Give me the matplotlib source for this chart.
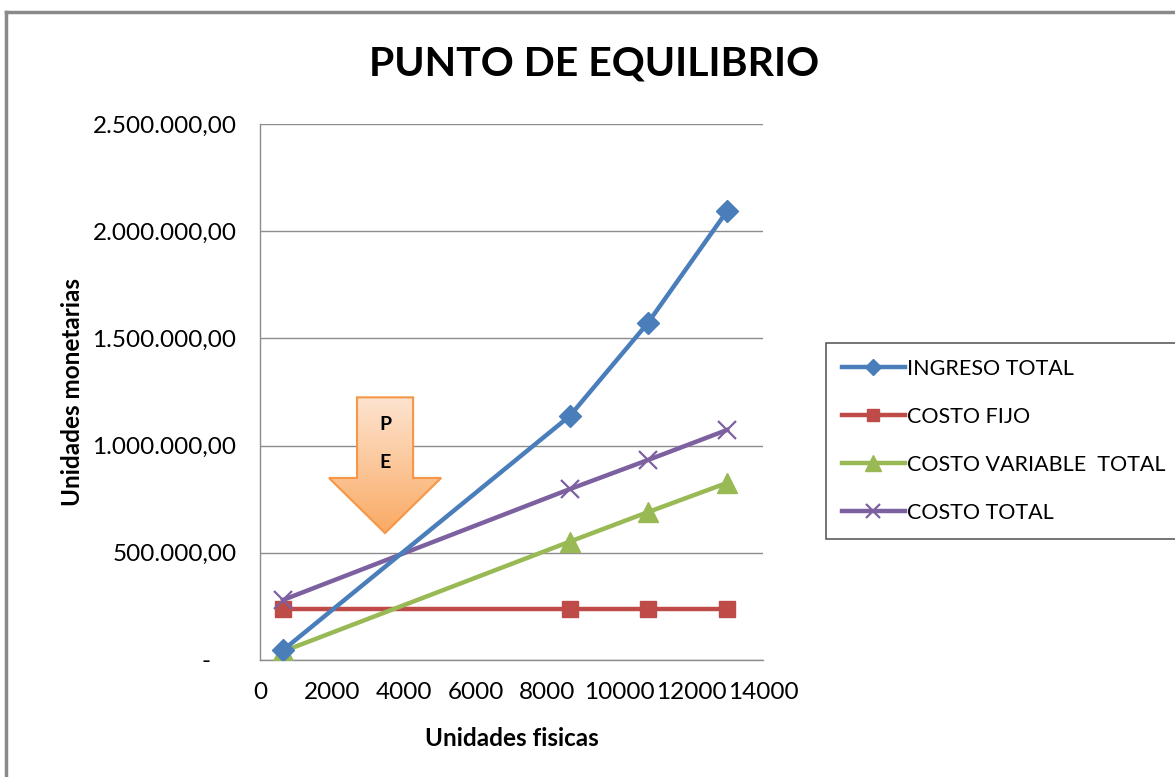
import matplotlib
matplotlib.use("Agg")
from matplotlib import pyplot as plt
from matplotlib.patches import Polygon
from matplotlib.lines import Line2D
from matplotlib.ticker import FuncFormatter
import numpy as np

plt.rcParams['font.family'] = ['Lato', 'DejaVu Sans']

# Units produced and the money series for each level
unidades = [640, 8620, 10800, 13000]
ingreso_total = [46000, 1138000, 1573000, 2094000]
costo_fijo = [236000, 236000, 236000, 236000]
costo_variable_total = [40000, 552000, 690000, 826000]
costo_total = [280000, 797000, 933000, 1073000]

series_names = ['INGRESO TOTAL', 'COSTO FIJO', 'COSTO VARIABLE  TOTAL', 'COSTO TOTAL']

# Break-even marker (block arrow labelled "P E")
pe_x = 3480
pe_top = 1225000
pe_tip = 592000


def money(v, pos):
    if v == 0:
        return '-    '
    s = '{:,.2f}'.format(v)
    return s.replace(',', 'X').replace('.', ',').replace('X', '.')


fig = plt.figure(figsize=(11.75, 7.77), dpi=100)
ax = fig.add_axes([0.2213, 0.1506, 0.4281, 0.6898])

# Outer frame of the chart area
fig.add_artist(Line2D([0.0055, 1.0], [0.9845, 0.9845], transform=fig.transFigure, color='#8a8a8a', lw=2.5))
fig.add_artist(Line2D([0.0055, 0.0055], [0.0, 0.9845], transform=fig.transFigure, color='#8a8a8a', lw=2.5))

lw = 3.2
ax.plot(unidades, ingreso_total, color='#4a7ebb', lw=lw, marker='D', ms=11, label=series_names[0], zorder=5)
ax.plot(unidades, costo_fijo, color='#be4b48', lw=lw, marker='s', ms=12, label=series_names[1], zorder=4)
ax.plot(unidades, costo_variable_total, color='#98b954', lw=lw, marker='^', ms=15, label=series_names[2], zorder=4)
ax.plot(unidades, costo_total, color='#7d60a0', lw=lw, marker='x', ms=13, mew=1.6, label=series_names[3], zorder=4)

ax.set_xlim(0, 14000)
ax.set_ylim(0, 2500000)
ax.set_xticks(np.arange(0, 14001, 2000))
ax.set_yticks(np.arange(0, 2500001, 500000))
ax.yaxis.set_major_formatter(FuncFormatter(money))
ax.tick_params(length=0, labelsize=17.5)
ax.tick_params(axis='y', pad=17)
ax.tick_params(axis='x', pad=16)
ax.grid(axis='y', color='#8c8c8c', lw=1)
ax.set_axisbelow(True)
for side in ['top', 'right']:
    ax.spines[side].set_visible(False)
for side in ['left', 'bottom']:
    ax.spines[side].set_color('#8c8c8c')
    ax.spines[side].set_linewidth(1)

ax.set_xlabel('Unidades fisicas', fontsize=17.5, fontweight='bold', labelpad=17)
ax.set_ylabel('Unidades monetarias', fontsize=17.5, fontweight='bold', labelpad=6)
fig.text(0.506, 0.918, 'PUNTO DE EQUILIBRIO', ha='center', va='center', fontsize=29.5, fontweight='bold')

# Block arrow with a peach-to-orange gradient
shaft_w = 780
head_w = 1560
head_base = 849000
arrow_pts = [
    (pe_x - shaft_w, pe_top), (pe_x + shaft_w, pe_top), (pe_x + shaft_w, head_base),
    (pe_x + head_w, head_base), (pe_x, pe_tip), (pe_x - head_w, head_base),
    (pe_x - shaft_w, head_base),
]
arrow = Polygon(arrow_pts, closed=True, facecolor='none', edgecolor='#f79646', lw=1.5, zorder=3)
ax.add_patch(arrow)
grad = np.linspace(0, 1, 256).reshape(-1, 1)
top_c = np.array([253, 228, 208]) / 255
bot_c = np.array([250, 170, 100]) / 255
img = top_c[None, None, :] * (1 - grad[:, :, None]) + bot_c[None, None, :] * grad[:, :, None]
im = ax.imshow(img, extent=[pe_x - head_w, pe_x + head_w, pe_tip, pe_top], aspect='auto', zorder=2.9, origin='upper')
im.set_clip_path(arrow)
ax.text(pe_x, 1097000, 'P', ha='center', va='center', fontsize=14, fontweight='bold', zorder=6)
ax.text(pe_x, 922000, 'E', ha='center', va='center', fontsize=14, fontweight='bold', zorder=6)

leg = fig.legend(loc='upper left', bbox_to_anchor=(0.703, 0.559), fontsize=15.5, frameon=True, fancybox=False,
                 edgecolor='#333333', handlelength=2.9, handletextpad=0.1, labelspacing=1.3,
                 borderpad=0.75, borderaxespad=0)
leg.get_frame().set_linewidth(1.2)
for h in leg.legend_handles:
    h.set_markersize(h.get_markersize() * 0.75)

fig.savefig('out.png', dpi=100)
